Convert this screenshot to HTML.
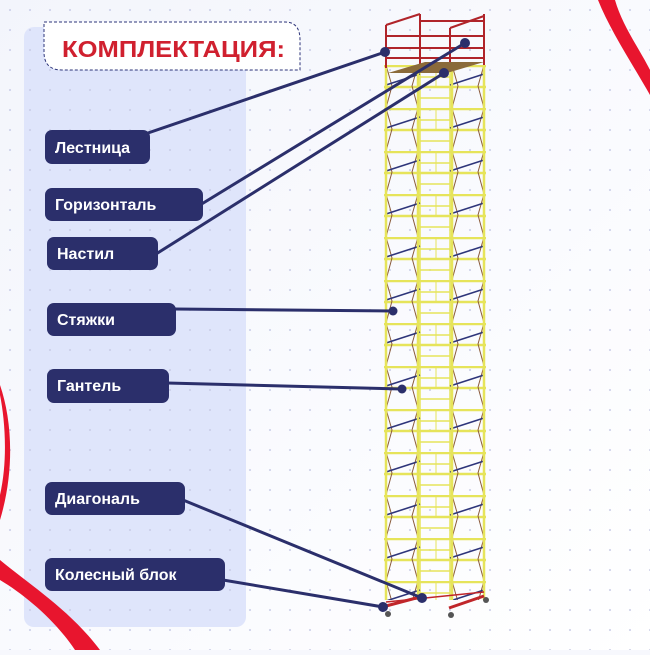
<!DOCTYPE html>
<html><head><meta charset="utf-8"><style>
html,body{margin:0;padding:0}
body{width:650px;height:650px;overflow:hidden;background:#f7f8fd;font-family:"Liberation Sans",sans-serif}
</style></head><body>
<svg width="650" height="650" viewBox="0 0 650 650" xmlns="http://www.w3.org/2000/svg">
<defs>
<pattern id="dots" width="20" height="20" patternUnits="userSpaceOnUse"><circle cx="10" cy="10" r="1" fill="#c9cde8"/></pattern>
<linearGradient id="bg" x1="0" y1="0" x2="1" y2="1"><stop offset="0" stop-color="#f3f5fc"/><stop offset="1" stop-color="#ffffff"/></linearGradient>
<pattern id="scaf" x="384" y="65" width="102" height="43" patternUnits="userSpaceOnUse">
 <g stroke="#e6e45a" stroke-width="2.5" fill="none">
  <line x1="0" y1="1" x2="102" y2="1"/><line x1="0" y1="22" x2="102" y2="22"/>
  <line x1="36" y1="12" x2="66" y2="12" stroke-width="1.5"/><line x1="36" y1="33" x2="66" y2="33" stroke-width="1.5"/>
  <line x1="36" y1="0" x2="36" y2="43" stroke-width="1.5"/><line x1="66" y1="0" x2="66" y2="43" stroke-width="1.5"/>
  <line x1="52" y1="0" x2="52" y2="22" stroke-width="1"/>
 </g>
 <g stroke="#8a5a3a" stroke-width="1" fill="none">
  <polyline points="2,0 8,21 2,43"/><polyline points="34,0 28,21 34,43"/>
  <polyline points="68,0 74,21 68,43"/><polyline points="100,0 94,21 100,43"/>
 </g>
 <g stroke="#2e357a" stroke-width="1.6"><line x1="2" y1="20" x2="36" y2="9"/><line x1="66" y1="20" x2="100" y2="9"/></g>
</pattern>
</defs>
<rect width="650" height="650" fill="url(#bg)"/>
<rect width="650" height="650" fill="url(#dots)"/>
<rect x="24" y="27" width="222" height="600" rx="10" fill="#dfe5fb"/>
<rect x="24" y="27" width="222" height="600" rx="10" fill="url(#dots)"/>
<!-- ribbons -->
<path d="M598 0 C610 30 630 60 650 95 L650 70 C640 50 622 25 615 0 Z" fill="#e8152e"/>
<path d="M0 385 C12 420 15 470 0 520 L0 495 C8 460 5 420 0 395 Z" fill="#e8152e"/>
<path d="M0 560 C30 585 70 610 100 650 L75 650 C55 620 25 595 0 580 Z" fill="#e8152e"/>
<!-- title -->
<path d="M44 22 H285 Q300 22 300 40 V70 H62 Q44 70 44 52 Z" fill="#fff" stroke="#2e357a" stroke-width="1" stroke-dasharray="3,2"/>
<text x="62" y="57" font-size="23" font-weight="bold" fill="#d0202f" textLength="223" lengthAdjust="spacingAndGlyphs" font-family="Liberation Sans,sans-serif">КОМПЛЕКТАЦИЯ:</text>
<!-- scaffold -->
<rect x="384" y="65" width="102" height="535" fill="url(#scaf)"/>
<g stroke="#e6e45a" stroke-width="2.5"><line x1="386" y1="65" x2="386" y2="600"/><line x1="418" y1="65" x2="418" y2="600"/><line x1="452" y1="65" x2="452" y2="600"/><line x1="484" y1="65" x2="484" y2="600"/></g>
<g stroke="#b0242a" stroke-width="2" fill="none">
 <line x1="386" y1="25" x2="386" y2="68"/><line x1="420" y1="14" x2="420" y2="65"/><line x1="450" y1="28" x2="450" y2="68"/><line x1="484" y1="14" x2="484" y2="65"/>
 <line x1="386" y1="36" x2="484" y2="36"/><line x1="386" y1="48" x2="484" y2="48"/><line x1="386" y1="58" x2="484" y2="58"/><line x1="420" y1="21" x2="484" y2="21"/>
 <line x1="386" y1="25" x2="420" y2="14"/><line x1="450" y1="28" x2="484" y2="16"/>
</g>
<polygon points="388,73 447,73 484,62 425,62" fill="#8a6a3a"/>
<g stroke="#c0262a" stroke-width="3"><line x1="386" y1="606" x2="420" y2="597"/><line x1="449" y1="608" x2="484" y2="596"/><line x1="386" y1="602" x2="484" y2="592" stroke-width="1.5"/></g>
<g fill="#555"><circle cx="388" cy="614" r="3"/><circle cx="451" cy="615" r="3"/><circle cx="486" cy="600" r="3"/></g>
<!-- connectors -->
<g stroke="#2b2f6b" stroke-width="3" fill="none">
 <line x1="148" y1="133" x2="385" y2="52"/>
 <line x1="200" y1="205" x2="465" y2="43"/>
 <line x1="156" y1="254" x2="444" y2="73"/>
 <line x1="174" y1="309" x2="393" y2="311"/>
 <line x1="167" y1="383" x2="402" y2="389"/>
 <line x1="183" y1="500" x2="422" y2="598"/>
 <line x1="223" y1="580" x2="383" y2="607"/>
</g>
<g fill="#2b2f6b"><circle cx="385" cy="52" r="5"/><circle cx="465" cy="43" r="5"/><circle cx="444" cy="73" r="5"/><circle cx="393" cy="311" r="4.5"/><circle cx="402" cy="389" r="4.5"/><circle cx="422" cy="598" r="5"/><circle cx="383" cy="607" r="5"/></g>
<!-- labels -->
<g fill="#2b2f6b">
 <rect x="45" y="130" width="105" height="34" rx="7"/>
 <rect x="45" y="188" width="158" height="33" rx="7"/>
 <rect x="47" y="237" width="111" height="33" rx="7"/>
 <rect x="47" y="303" width="129" height="33" rx="7"/>
 <rect x="47" y="369" width="122" height="34" rx="7"/>
 <rect x="45" y="482" width="140" height="33" rx="7"/>
 <rect x="45" y="558" width="180" height="33" rx="7"/>
</g>
<g fill="#fff" font-size="16" font-weight="bold" font-family="Liberation Sans,sans-serif">
 <text x="55" y="153">Лестница</text>
 <text x="55" y="210">Горизонталь</text>
 <text x="57" y="259">Настил</text>
 <text x="57" y="325">Стяжки</text>
 <text x="57" y="391">Гантель</text>
 <text x="55" y="504">Диагональ</text>
 <text x="55" y="580">Колесный блок</text>
</g>
</svg>
</body></html>
